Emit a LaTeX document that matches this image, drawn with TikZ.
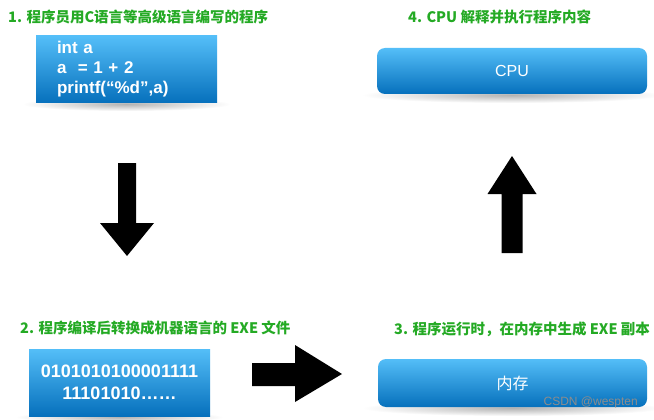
\documentclass[tikz,border=0pt]{standalone}
\usepackage{fontspec}
\setmainfont{Liberation Sans}
\newfontfamily\cjk{Noto Sans CJK SC}
\usetikzlibrary{positioning}
\definecolor{stepgreen}{RGB}{36,170,36}
\definecolor{boxtop}{RGB}{84,190,248}
\definecolor{boxbot}{RGB}{6,112,188}
\tikzset{
  steptitle/.style={anchor=west,inner sep=0pt,text=stepgreen,
    font=\cjk\bfseries\fontsize{14.5}{17}\selectfont},
  bluebox/.style={top color=boxtop,bottom color=boxbot,text=white,inner sep=0pt},
  boxshadow/.style={inner color=black!30,outer color=white},
  blockarrow/.style={fill=black},
}
\begin{document}
\begin{tikzpicture}[x=1pt,y=-1pt]
    \useasboundingbox[fill=white] (0,0) rectangle (654,420);
    % soft shadows under the boxes
    \shade[boxshadow] (126.5,104) ellipse (104pt and 7pt);
    \shade[boxshadow] (512,95) ellipse (150pt and 8pt);
    \shade[boxshadow] (119.5,417) ellipse (104pt and 6pt);
    \shade[boxshadow] (512.5,408) ellipse (150pt and 8pt);
    % step captions
    \foreach \n/\x/\y/\txt in {
      t1/8/17/{1. 程序员用C语言等高级语言编写的程序},
      t4/408/17/{4. CPU 解释并执行程序内容},
      t2/20/328/{2. 程序编译后转换成机器语言的 EXE 文件},
      t3/394/329/{3. 程序运行时，在内存中生成 EXE 副本}}{
      \node[steptitle] (\n) at (\x,\y) {\txt};
    }
    % boxes
    \node[bluebox,minimum width=181pt,minimum height=67pt,text width=139pt,
      align=left,font=\bfseries\fontsize{17}{20}\selectfont]
      (src) at (126.5,69.5) {int a\\a \ = 1 + 2\\printf(“\%d”,a)};
    \node[bluebox,minimum width=181pt,minimum height=67pt,align=center,
      font=\bfseries\fontsize{18}{22}\selectfont]
      (exe) at (119.5,382.5) {0101010100001111\\11101010……};
    \node[bluebox,rounded corners=8pt,minimum width=270pt,minimum height=46pt,
      font=\fontsize{16}{19}\selectfont] (cpu) at (512,71) {CPU};
    \node[bluebox,rounded corners=8pt,minimum width=269pt,minimum height=48pt,
      font=\cjk\fontsize{16}{19}\selectfont] (mem) at (512.5,383) {内存};
    % block arrows
    \fill[blockarrow] (118,163) -- ++(18,0) -- ++(0,60) -- ++(18,0)
      -- (127,256) -- ++(-27,-33) -- ++(18,0) -- cycle;
    \fill[blockarrow] (252,363) -- ++(43,0) -- ++(0,-18) -- (342,374)
      -- (295,402) -- ++(0,-16) -- ++(-43,0) -- cycle;
    \fill[blockarrow] (501.5,253) -- ++(0,-59) -- ++(-14,0) -- (512,156)
      -- (536.5,194) -- ++(-14,0) -- ++(0,59) -- cycle;
    \node[anchor=east,inner sep=0pt,text=black!45,font=\fontsize{12}{14}\selectfont]
      (mark) at (638,402) {CSDN @wespten};
\end{tikzpicture}
\end{document}
